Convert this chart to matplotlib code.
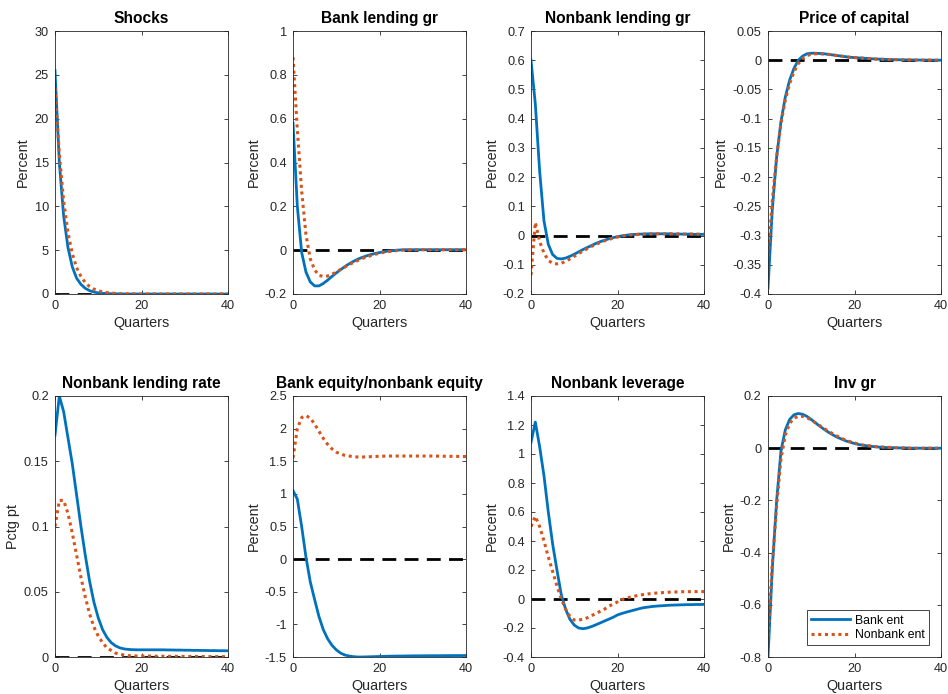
import numpy as np
import matplotlib
matplotlib.use("Agg")
import matplotlib.pyplot as plt
from matplotlib.ticker import FormatStrFormatter

plt.rcParams["font.family"] = ["Liberation Sans", "DejaVu Sans"]
plt.rcParams["axes.unicode_minus"] = False

quarters = np.arange(41)

titles = ["Shocks", "Bank lending gr", "Nonbank lending gr", "Price of capital",
          "Nonbank lending rate", "Bank equity/nonbank equity", "Nonbank leverage", "Inv gr"]
ylabels = ["Percent", "Percent", "Percent", "Percent",
           "Pctg pt", "Percent", "Percent", "Percent"]
ylims = [(0, 30), (-0.2, 1), (-0.2, 0.7), (-0.4, 0.05),
         (0, 0.2), (-1.5, 2.5), (-0.4, 1.4), (-0.8, 0.2)]
ytick_steps = [5, 0.2, 0.1, 0.05, 0.05, 0.5, 0.2, 0.2]
series_labels = ["Bank ent", "Nonbank ent"]

# values, quarters 0..40
shocks_bank = [25.5, 15.0, 8.9, 5.3, 3.1, 1.8, 1.1, 0.65, 0.38, 0.22, 0.13, 0.08, 0.05, 0.03, 0.02, 0.01,
               0, 0, 0, 0, 0, 0, 0, 0, 0, 0, 0, 0, 0, 0, 0, 0, 0, 0, 0, 0, 0, 0, 0, 0, 0]
shocks_nonbank = [23.5, 16.0, 10.6, 7.0, 4.6, 3.0, 2.0, 1.3, 0.85, 0.56, 0.37, 0.24, 0.16, 0.1, 0.07, 0.05,
                  0.03, 0.02, 0.01, 0.01, 0, 0, 0, 0, 0, 0, 0, 0, 0, 0, 0, 0, 0, 0, 0, 0, 0, 0, 0, 0, 0]

bank_lend_bank = [0.58, 0.2, -0.01, -0.1, -0.145, -0.163, -0.163, -0.152, -0.137, -0.12, -0.104, -0.089,
                  -0.075, -0.062, -0.051, -0.041, -0.033, -0.026, -0.02, -0.015, -0.011, -0.007, -0.004,
                  -0.002, 0.0, 0.001, 0.002, 0.002, 0.002, 0.002, 0.002, 0.002, 0.002, 0.002, 0.002,
                  0.002, 0.002, 0.002, 0.002, 0.002, 0.002]
bank_lend_nonbank = [0.88, 0.55, 0.27, 0.07, -0.04, -0.09, -0.115, -0.12, -0.118, -0.11, -0.1, -0.088,
                     -0.077, -0.066, -0.056, -0.047, -0.038, -0.031, -0.025, -0.019, -0.014, -0.01, -0.007,
                     -0.004, -0.002, 0.0, 0.001, 0.001, 0.002, 0.002, 0.002, 0.002, 0.002, 0.002, 0.002,
                     0.002, 0.002, 0.002, 0.002, 0.002, 0.002]

nb_lend_bank = [0.6, 0.45, 0.22, 0.05, -0.03, -0.065, -0.078, -0.08, -0.077, -0.071, -0.064, -0.056,
                -0.048, -0.041, -0.034, -0.027, -0.021, -0.016, -0.011, -0.007, -0.004, -0.001, 0.001,
                0.003, 0.004, 0.005, 0.005, 0.006, 0.006, 0.006, 0.006, 0.006, 0.006, 0.005, 0.005,
                0.005, 0.005, 0.005, 0.004, 0.004, 0.004]
nb_lend_nonbank = [-0.135, 0.045, -0.02, -0.06, -0.085, -0.095, -0.097, -0.095, -0.088, -0.08, -0.071,
                   -0.062, -0.053, -0.045, -0.037, -0.03, -0.024, -0.018, -0.013, -0.009, -0.005, -0.002,
                   0.0, 0.002, 0.003, 0.004, 0.005, 0.005, 0.006, 0.006, 0.006, 0.006, 0.006, 0.006,
                   0.006, 0.005, 0.005, 0.005, 0.005, 0.005, 0.005]

price_bank = [-0.39, -0.255, -0.165, -0.105, -0.063, -0.034, -0.014, 0.0, 0.007, 0.011, 0.012, 0.012,
              0.0115, 0.011, 0.01, 0.009, 0.008, 0.007, 0.006, 0.005, 0.0045, 0.004, 0.0035, 0.003,
              0.0025, 0.002, 0.0018, 0.0015, 0.0012, 0.001, 0.0008, 0.0007, 0.0006, 0.0005, 0.0004,
              0.0003, 0.0002, 0.0002, 0.0001, 0.0001, 0.0]
price_nonbank = [-0.335, -0.24, -0.165, -0.108, -0.068, -0.04, -0.02, -0.006, 0.003, 0.008, 0.01, 0.011,
                 0.011, 0.0105, 0.01, 0.009, 0.008, 0.007, 0.006, 0.005, 0.0045, 0.004, 0.0035, 0.003,
                 0.0025, 0.002, 0.0018, 0.0015, 0.0012, 0.001, 0.0008, 0.0007, 0.0006, 0.0005, 0.0004,
                 0.0003, 0.0002, 0.0002, 0.0001, 0.0001, 0.0]

rate_bank = [0.17, 0.2, 0.188, 0.168, 0.148, 0.124, 0.1, 0.078, 0.058, 0.042, 0.03, 0.021, 0.015, 0.011,
             0.0085, 0.007, 0.0062, 0.0058, 0.0056, 0.0055, 0.0055, 0.0055, 0.0055, 0.0055, 0.0055,
             0.0055, 0.0054, 0.0054, 0.0053, 0.0053, 0.0052, 0.0052, 0.0051, 0.0051, 0.005, 0.005,
             0.0049, 0.0049, 0.0048, 0.0048, 0.0048]
rate_nonbank = [0.1, 0.12, 0.12, 0.11, 0.095, 0.078, 0.061, 0.046, 0.033, 0.023, 0.016, 0.011, 0.007,
                0.005, 0.003, 0.002, 0.0015, 0.001, 0.0009, 0.0008, 0.0008, 0.0007, 0.0007, 0.0006,
                0.0006, 0.0006, 0.0005, 0.0005, 0.0005, 0.0005, 0.0004, 0.0004, 0.0004, 0.0004, 0.0004,
                0.0003, 0.0003, 0.0003, 0.0003, 0.0003, 0.0003]

equity_bank = [1.05, 0.92, 0.5, 0.03, -0.35, -0.62, -0.88, -1.08, -1.22, -1.32, -1.39, -1.44, -1.47,
               -1.485, -1.495, -1.5, -1.5, -1.498, -1.496, -1.494, -1.492, -1.49, -1.488, -1.487,
               -1.486, -1.485, -1.484, -1.483, -1.482, -1.482, -1.481, -1.481, -1.48, -1.48, -1.48,
               -1.479, -1.479, -1.478, -1.478, -1.478, -1.477]
equity_nonbank = [1.55, 2.0, 2.17, 2.2, 2.16, 2.07, 1.96, 1.85, 1.76, 1.69, 1.64, 1.61, 1.59, 1.58, 1.57,
                  1.565, 1.565, 1.567, 1.57, 1.573, 1.576, 1.578, 1.58, 1.58, 1.58, 1.58, 1.58, 1.58,
                  1.58, 1.58, 1.58, 1.58, 1.58, 1.579, 1.578, 1.577, 1.576, 1.575, 1.574, 1.573, 1.572]

leverage_bank = [1.08, 1.22, 1.05, 0.85, 0.6, 0.38, 0.2, 0.03, -0.07, -0.14, -0.18, -0.2, -0.205, -0.2,
                 -0.19, -0.178, -0.165, -0.152, -0.139, -0.126, -0.11, -0.1, -0.091, -0.083, -0.075,
                 -0.067, -0.06, -0.056, -0.052, -0.049, -0.047, -0.045, -0.043, -0.042, -0.041, -0.04,
                 -0.039, -0.039, -0.038, -0.038, -0.037]
leverage_nonbank = [0.5, 0.57, 0.5, 0.4, 0.29, 0.19, 0.09, 0.0, -0.07, -0.12, -0.145, -0.145, -0.14,
                    -0.13, -0.115, -0.1, -0.085, -0.07, -0.05, -0.035, -0.02, -0.005, 0.005, 0.013, 0.02,
                    0.026, 0.031, 0.035, 0.038, 0.041, 0.043, 0.045, 0.047, 0.048, 0.049, 0.05, 0.05,
                    0.051, 0.051, 0.051, 0.051]

inv_bank = [-0.8, -0.46, -0.2, -0.01, 0.07, 0.11, 0.128, 0.133, 0.13, 0.122, 0.11, 0.097, 0.084, 0.072,
            0.061, 0.051, 0.042, 0.035, 0.028, 0.023, 0.018, 0.014, 0.011, 0.009, 0.007, 0.005, 0.004,
            0.003, 0.002, 0.002, 0.001, 0.001, 0.001, 0.0, 0.0, 0.0, 0.0, 0.0, 0.0, 0.0, 0.0]
inv_nonbank = [-0.72, -0.44, -0.22, -0.04, 0.05, 0.095, 0.115, 0.122, 0.122, 0.117, 0.108, 0.097, 0.086,
               0.075, 0.065, 0.055, 0.046, 0.038, 0.031, 0.025, 0.02, 0.016, 0.012, 0.01, 0.008, 0.006,
               0.005, 0.004, 0.003, 0.002, 0.002, 0.001, 0.001, 0.0, 0.0, 0.0, 0.0, 0.0, 0.0, 0.0, 0.0]

bank_series = [shocks_bank, bank_lend_bank, nb_lend_bank, price_bank,
               rate_bank, equity_bank, leverage_bank, inv_bank]
nonbank_series = [shocks_nonbank, bank_lend_nonbank, nb_lend_nonbank, price_nonbank,
                  rate_nonbank, equity_nonbank, leverage_nonbank, inv_nonbank]

BLUE = "#0072BD"
ORANGE = "#D95319"
GRAY = "#262626"

W, H = 948, 694
fig = plt.figure(figsize=(W / 100, H / 100), dpi=100)

lefts = [55, 293, 531, 768]
rows = [(31, 294), (396, 657)]
ax_w = 173

for i in range(8):
    r, c = divmod(i, 4)
    top, bot = rows[r]
    ax = fig.add_axes([lefts[c] / W, 1 - bot / H, ax_w / W, (bot - top) / H])

    ax.plot(quarters, np.zeros_like(quarters), color="black", ls=(0, (5, 3)), lw=2)
    h1, = ax.plot(quarters, bank_series[i], color=BLUE, lw=2)
    h2, = ax.plot(quarters, nonbank_series[i], color=ORANGE, ls=(0, (1, 1.2)), lw=2.2)

    lo, hi = ylims[i]
    step = ytick_steps[i]
    n = int(round((hi - lo) / step))
    ax.set_yticks([round(lo + k * step, 4) for k in range(n + 1)])
    ax.yaxis.set_major_formatter(FormatStrFormatter("%g"))
    ax.set_xlim(0, 40)
    ax.set_ylim(lo, hi)
    ax.set_xticks([0, 20, 40])
    ax.set_title(titles[i], fontsize=11.2, fontweight="bold", pad=6)
    ax.set_xlabel("Quarters", fontsize=10.4, color=GRAY, labelpad=3)
    ax.set_ylabel(ylabels[i], fontsize=10.4, color=GRAY, labelpad=3)
    ax.tick_params(direction="in", length=3, width=0.6, top=True, right=True,
                   labelsize=9.2, colors=GRAY, pad=4.5)
    for s in ax.spines.values():
        s.set_linewidth(0.6)
        s.set_color(GRAY)

    if i == 7:
        leg = ax.legend([h1, h2], series_labels, loc="lower right", fontsize=8.8,
                        fancybox=False, framealpha=1, edgecolor=GRAY,
                        handlelength=3.2, borderpad=0.35, labelspacing=0.2,
                        handletextpad=0.4, borderaxespad=0.95)
        leg.get_frame().set_linewidth(0.6)

fig.savefig("out.png", dpi=100)
